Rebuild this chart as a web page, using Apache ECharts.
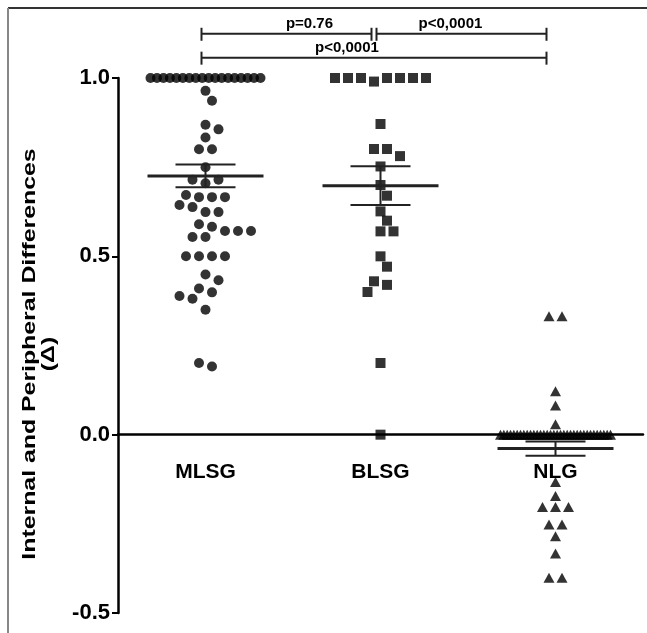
<!DOCTYPE html>
<html>
<head>
<meta charset="utf-8">
<script src="https://cdn.jsdelivr.net/npm/echarts@6/dist/echarts.min.js"></script>
<style>
  html, body { margin: 0; padding: 0; background: #fff; }
  #chart { width: 647px; height: 633px; }
</style>
</head>
<body>
<div id="chart"></div>
<script>
var categories = ['MLSG', 'BLSG', 'NLG'];

var mlsgValues = [1, 1, 1, 1, 1, 1, 1, 1, 1, 1, 1, 1, 1, 1, 1, 1, 1, 1,
    0.964, 0.936, 0.869, 0.856, 0.833, 0.80, 0.80, 0.75, 0.715, 0.705, 0.715,
    0.672, 0.666, 0.666, 0.666, 0.644, 0.638, 0.624, 0.624, 0.590, 0.583,
    0.571, 0.571, 0.571, 0.554, 0.554, 0.5, 0.5, 0.5, 0.5, 0.449, 0.433,
    0.410, 0.399, 0.389, 0.381, 0.350, 0.201, 0.191];

var blsgValues = [1, 1, 1, 0.99, 1, 1, 1, 1, 0.871, 0.801, 0.801, 0.781, 0.752,
    0.700, 0.670, 0.626, 0.600, 0.570, 0.570, 0.500, 0.471, 0.430, 0.420,
    0.400, 0.201, 0.0];

var nlgValues = [0.332, 0.332, 0.122, 0.082, 0.029,
    0, 0, 0, 0, 0, 0, 0, 0, 0, 0, 0, 0, 0, 0, 0, 0, 0,
    0, 0, 0, 0, 0, 0, 0, 0, 0, 0, 0, 0, 0, 0, 0, 0, 0,
    -0.133, -0.172, -0.203, -0.203, -0.203, -0.252, -0.252, -0.285, -0.333,
    -0.401, -0.401];

var yTicks = [-0.5, 0.0, 0.5, 1.0];
var yTitle = 'Internal and Peripheral Differences\n(Δ)';
var pLabels = ['p=0.76', 'p<0,0001', 'p<0,0001'];
var pPairs = [[0, 1], [1, 2], [0, 2]];

// layout
var GRID = { left: 118, right: 4, top: 78, bottom: 20 };
var W = 647, H = 633;
var PX_X = (W - GRID.left - GRID.right) / 3;
var PX_Y = (H - GRID.top - GRID.bottom) / 1.5;
var FONT = '"Liberation Sans", Arial, sans-serif';

// simple beeswarm, offsets in pixels, like the prism dot plot
function swarm(values, gi) {
    var STEP = 13, HALF = 6.5, MAXW = 110, MIND = 11, TIE = 0.012;
    var order = values.map(function (v, i) { return i; })
        .sort(function (a, b) { return values[b] - values[a] || a - b; });
    var placed = [], out = [];
    var i = 0;
    while (i < order.length) {
        var j = i;
        while (j + 1 < order.length && values[order[i]] - values[order[j + 1]] < TIE) j++;
        // points of one row keep the order they have in the data
        var row = order.slice(i, j + 1).sort(function (a, b) { return a - b; })
            .map(function (idx) { return values[idx]; });
        var k = row.length;
        var step = k > 1 ? Math.min(STEP, MAXW / (k - 1)) : 0;
        var base = row.map(function (v, n) {
            return { dx: (n - (k - 1) / 2) * step, y: v * PX_Y };
        });
        var shift = 0;
        if (k === 1 || step >= STEP) {
            for (var m = 0; m < 60; m++) {
                var s = (m % 2 ? 1 : -1) * Math.ceil(m / 2) * HALF;
                var ok = base.every(function (b) {
                    return placed.every(function (p) {
                        return Math.hypot(p.x - (b.dx + s), p.y - b.y) >= MIND;
                    });
                });
                if (ok) { shift = s; break; }
            }
        }
        base.forEach(function (b, n) {
            placed.push({ x: b.dx + shift, y: b.y });
            out.push([gi + (b.dx + shift) / PX_X, row[n]]);
        });
        i = j + 1;
    }
    return out;
}

function meanSem(arr) {
    var n = arr.length;
    var mean = arr.reduce(function (a, b) { return a + b; }, 0) / n;
    var ss = arr.reduce(function (a, b) { return a + (b - mean) * (b - mean); }, 0);
    var sd = Math.sqrt(ss / (n - 1));
    return [mean, sd / Math.sqrt(n)];
}

var groupValues = [mlsgValues, blsgValues, nlgValues];
var stats = groupValues.map(function (g, i) {
    var r = meanSem(g);
    return [i, r[0], r[1]];
});

var chart = echarts.init(document.getElementById('chart'));

var option = {
    backgroundColor: '#fff',
    animation: false,
    grid: {
        left: GRID.left, right: GRID.right, top: GRID.top, bottom: GRID.bottom,
        outerBoundsMode: 'none', containLabel: false
    },
    xAxis: [{
        type: 'category',
        data: categories,
        position: 'bottom',
        // x axis sits on y = 0, which is 0.5 units above the bottom (-0.5)
        offset: -0.5 * PX_Y,
        axisLine: { onZero: false, lineStyle: { color: '#000', width: 2.5 } },
        axisTick: { alignWithLabel: true, length: 5, lineStyle: { color: '#000', width: 2 } },
        axisLabel: { margin: 27, color: '#000', fontSize: 21, fontWeight: 'bold', fontFamily: FONT },
        splitLine: { show: false }
    }, {
        type: 'value',
        min: -0.5,
        max: 2.5,
        show: false
    }],
    yAxis: {
        type: 'value',
        min: -0.5,
        max: 1,
        interval: 0.5,
        axisLine: { show: true, onZero: false, lineStyle: { color: '#000', width: 2.5 } },
        axisTick: { show: true, length: 6, lineStyle: { color: '#000', width: 2 } },
        axisLabel: {
            margin: 8, color: '#000', fontSize: 22, fontWeight: 'bold', fontFamily: FONT,
            formatter: function (v) { return yTicks.indexOf(v) >= 0 ? v.toFixed(1) : ''; }
        },
        splitLine: { show: false }
    },
    series: [{
        type: 'scatter',
        xAxisIndex: 1,
        symbol: 'circle',
        symbolSize: 10,
        itemStyle: { color: '#000' },
        data: swarm(mlsgValues, 0)
    }, {
        type: 'scatter',
        xAxisIndex: 1,
        symbol: 'rect',
        symbolSize: 10,
        itemStyle: { color: '#000' },
        data: swarm(blsgValues, 1)
    }, {
        type: 'scatter',
        xAxisIndex: 1,
        symbol: 'triangle',
        symbolSize: [11, 10],
        itemStyle: { color: '#000' },
        data: swarm(nlgValues, 2)
    }, {
        type: 'custom',
        xAxisIndex: 1,
        z: 5,
        data: stats,
        renderItem: function (params, api) {
            var x = api.value(0), m = api.value(1), e = api.value(2);
            var c = api.coord([x, m]);
            var hi = api.coord([x, m + e]);
            var lo = api.coord([x, m - e]);
            var st = { stroke: '#222', lineWidth: 2 };
            return {
                type: 'group',
                children: [
                    { type: 'line', shape: { x1: c[0] - 58, y1: c[1], x2: c[0] + 58, y2: c[1] }, style: { stroke: '#222', lineWidth: 3 } },
                    { type: 'line', shape: { x1: hi[0] - 30, y1: hi[1], x2: hi[0] + 30, y2: hi[1] }, style: st },
                    { type: 'line', shape: { x1: lo[0] - 30, y1: lo[1], x2: lo[0] + 30, y2: lo[1] }, style: st },
                    { type: 'line', shape: { x1: c[0], y1: hi[1], x2: c[0], y2: lo[1] }, style: st }
                ]
            };
        }
    }]
};

chart.setOption(option);

// frame, y title (tall lettering) and significance brackets
var bracketLevels = [1.124, 1.124, 1.057];
var textShift = [23, -11, -27];
var graphics = [
    { type: 'line', shape: { x1: 8, y1: 8, x2: W, y2: 8 }, style: { stroke: '#333', lineWidth: 2 } },
    { type: 'line', shape: { x1: 8, y1: 8, x2: 8, y2: H }, style: { stroke: '#888', lineWidth: 2 } },
    {
        type: 'text',
        x: 40,
        y: 354,
        rotation: Math.PI / 2,
        scaleX: 1.38,
        style: {
            text: yTitle, fill: '#000', fontSize: 18, fontWeight: 'bold', fontFamily: FONT,
            lineHeight: 19, align: 'center', verticalAlign: 'middle'
        }
    }
];
pPairs.forEach(function (pair, i) {
    var a = chart.convertToPixel({ seriesIndex: 0 }, [pair[0], bracketLevels[i]]);
    var b = chart.convertToPixel({ seriesIndex: 0 }, [pair[1], bracketLevels[i]]);
    var x1 = a[0] - 4, x2 = b[0] - 9, y = a[1];
    var st = { stroke: '#222', lineWidth: 2 };
    graphics.push({ type: 'line', shape: { x1: x1, y1: y, x2: x2, y2: y }, style: st });
    graphics.push({ type: 'line', shape: { x1: x1, y1: y - 6, x2: x1, y2: y + 7 }, style: st });
    graphics.push({ type: 'line', shape: { x1: x2, y1: y - 6, x2: x2, y2: y + 7 }, style: st });
    graphics.push({
        type: 'text',
        x: (x1 + x2) / 2 + textShift[i],
        y: y - 2,
        style: {
            text: pLabels[i], fill: '#000', fontSize: 15, fontWeight: 'bold', fontFamily: FONT,
            align: 'center', verticalAlign: 'bottom'
        }
    });
});
chart.setOption({ graphic: graphics });

window.onresize = function () { chart.resize(); };
</script>
</body>
</html>
